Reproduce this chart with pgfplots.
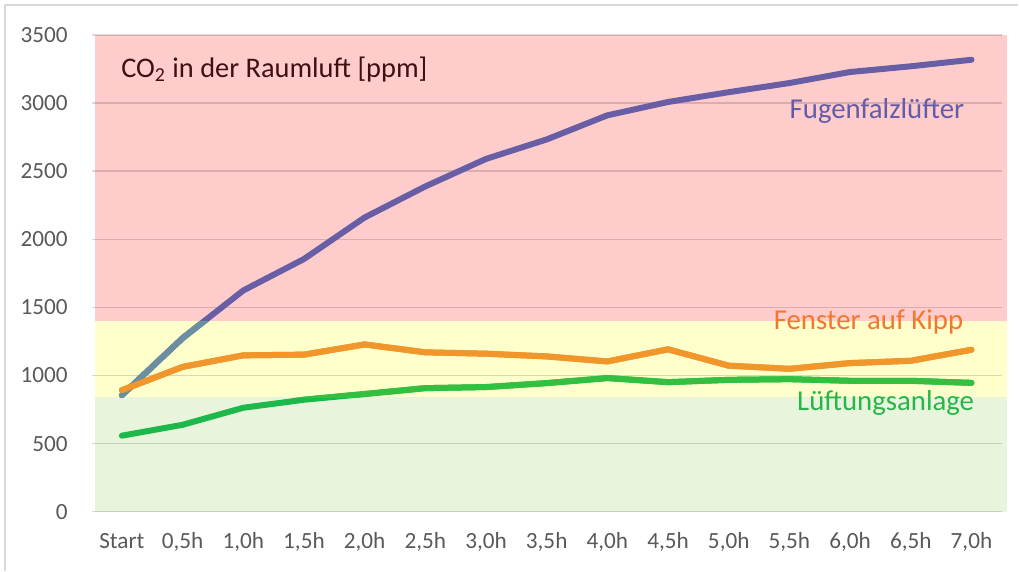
\documentclass[border=0pt]{standalone}
\usepackage{fontspec}
\setmainfont{Carlito}
\usepackage{pgfplots}
\usepackage{pgfplotstable}
\pgfplotsset{compat=1.18}
\definecolor{bandred}{RGB}{255,204,204}
\definecolor{bandyellow}{RGB}{255,255,204}
\definecolor{bandgreen}{RGB}{232,244,220}
\definecolor{cpurple}{RGB}{104,94,166}
\definecolor{cteal}{RGB}{106,143,160}
\definecolor{corange}{RGB}{241,150,42}
\definecolor{cgreen}{RGB}{29,184,74}
\definecolor{cgreenY}{RGB}{51,192,64}
\definecolor{ticktext}{RGB}{89,89,89}
\definecolor{ctitle}{RGB}{64,16,16}
\definecolor{lblpurple}{RGB}{100,92,168}
\definecolor{lblorange}{RGB}{240,120,48}
\definecolor{lblgreen}{RGB}{40,182,72}
\definecolor{frame}{RGB}{217,217,217}

\pgfplotstableread{
x fug fen luf
0  855  892  558
1  1274 1063 638
2  1624 1148 763
3  1855 1153 822
4  2160 1228 864
5  2388 1170 907
6  2590 1160 915
7  2733 1140 944
8  2910 1103 981
9  3008 1192 951
10 3080 1072 968
11 3147 1049 973
12 3228 1091 961
13 3270 1108 961
14 3318 1189 946
}\co

\pgfplotsset{every axis plot/.append style={line width=3pt, line cap=round, line join=round}}

\begin{document}
\begin{tikzpicture}
\draw[frame, line width=0.6pt] (-43.3pt,-29.5pt) -- (-43.3pt,253.5pt) -- (463.7pt,253.5pt);
\begin{axis}[at={(0,0)}, anchor=south west, scale only axis,
  width=455.4pt, height=238.5pt,
  xmin=-0.5, xmax=14.5, ymin=0, ymax=3500,
  set layers=standard, clip=false,
  axis line style={draw=none}, major tick length=0pt,
  ytick={0,500,...,3500}, ymajorgrids,
  grid style={black, opacity=0.15, line width=0.7pt},
  xtick={0,...,14},
  xticklabels={Start,{0,5h},{1,0h},{1,5h},{2,0h},{2,5h},{3,0h},{3,5h},{4,0h},{4,5h},{5,0h},{5,5h},{6,0h},{6,5h},{7,0h}},
  tick label style={font=\fontsize{11.6}{13}\selectfont, text=ticktext},
  /pgf/number format/assume math mode=true,
  scaled y ticks=false,
  yticklabel style={/pgf/number format/1000 sep={}, anchor=east, inner sep=0pt, xshift=-11.8pt},
  xticklabel style={anchor=base, inner sep=0pt, yshift=-18.5pt},
]
\begin{pgfonlayer}{axis background}
\fill[bandred] (axis cs:-0.445,1400) rectangle (axis cs:14.59,3500);
\fill[bandyellow] (axis cs:-0.445,840) rectangle (axis cs:14.59,1400);
\fill[bandgreen] (axis cs:-0.445,0) rectangle (axis cs:14.59,840);
\end{pgfonlayer}

\addplot[cpurple] table[x=x, y=fug] {\co};
\addplot[corange] table[x=x, y=fen] {\co};
\addplot[cgreen] table[x=x, y=luf] {\co};

\node[anchor=base west, inner sep=0pt, text=ctitle, font=\fontsize{14.2}{16}\selectfont] at (axis cs:-0.016,3189) {CO\textsubscript{2} in der Raumluft [ppm]};
\node[anchor=base east, inner sep=0pt, text=lblpurple, font=\fontsize{14.4}{16}\selectfont] at (axis cs:13.886,2890) {Fugenfalzlüfter};
\node[anchor=base east, inner sep=0pt, text=lblorange, font=\fontsize{14.4}{16}\selectfont] at (axis cs:13.87,1338) {Fenster auf Kipp};
\node[anchor=base east, inner sep=0pt, text=lblgreen, font=\fontsize{14.4}{16}\selectfont] at (axis cs:14.05,746) {Lüftungsanlage};
\end{axis}
% overlay axis: yellow band only, recolours the lines inside it
\begin{axis}[at={(0,57.24pt)}, anchor=south west, scale only axis,
  width=455.4pt, height=38.16pt,
  xmin=-0.5, xmax=14.5, ymin=840, ymax=1400, hide axis]
\addplot[cteal] table[x=x, y=fug] {\co};
\addplot[corange] table[x=x, y=fen] {\co};
\addplot[cgreenY] table[x=x, y=luf] {\co};
\end{axis}
\path (-45.8pt,-29.5pt) rectangle (463.7pt,256pt);
\end{tikzpicture}
\end{document}
